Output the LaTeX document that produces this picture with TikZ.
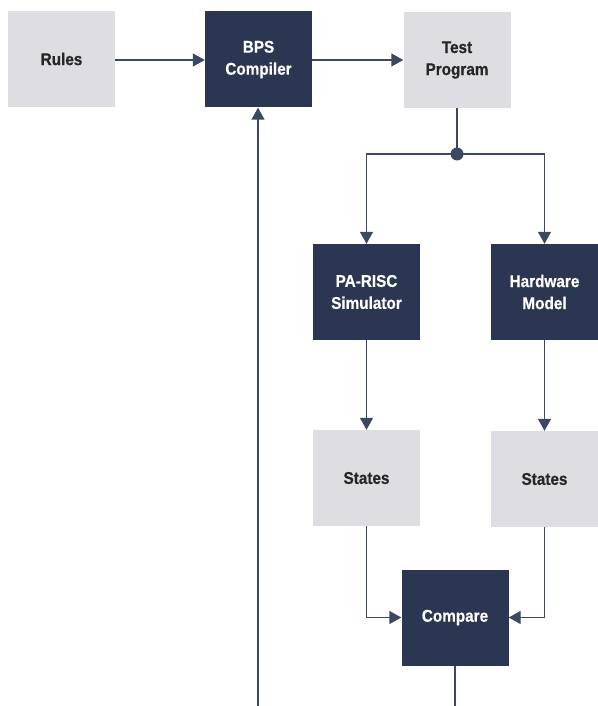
\documentclass[tikz,border=0pt]{standalone}
\usepackage{fontspec}
\setmainfont{Liberation Sans}[FakeStretch=0.9,FakeBold=0.6]
\usetikzlibrary{arrows.meta}
\definecolor{navy}{RGB}{42,54,82}
\definecolor{lgray}{RGB}{222,221,226}
\definecolor{wire}{RGB}{58,72,100}
\tikzset{
  box/.style={minimum width=107pt, minimum height=96pt, inner sep=0pt, align=center,
    font=\fontsize{17}{22}\selectfont\bfseries},
  darkbox/.style={box, fill=navy, text=white},
  lightbox/.style={box, fill=lgray, text=black!85},
  wireline/.style={draw=wire, line width=1.4pt},
  arr/.style={wireline, -{Triangle[length=12pt,width=13pt]}}
}
\begin{document}
\begin{tikzpicture}[x=1pt,y=-1pt]
\path[use as bounding box, fill=white] (0,0) rectangle (597,706);
\node[lightbox] (rules) at (61.5,59) {Rules};
\node[darkbox] (bps) at (258.5,59.5) {BPS\\Compiler};
\node[lightbox] (test) at (457,60) {Test\\Program};
\node[darkbox] (pa) at (366.5,292) {PA-RISC\\Simulator};
\node[darkbox] (hw) at (544.5,292) {Hardware\\Model};
\node[lightbox] (sl) at (366.5,478) {States};
\node[lightbox] (sr) at (544.5,479) {States};
\node[darkbox] (cmp) at (455,617.5) {Compare};
\coordinate (split) at (457,154);
\coordinate (bot) at (258,706);
\coordinate (cbot) at (455,706);
\coordinate (rin) at (bps.west |- 0,60);
\coordinate (tin) at (test.west |- 0,60);
\draw[arr] (rules.east |- rin) -- (rin);
\draw[arr] (bps.east |- tin) -- (tin);
\draw[wireline] (test.south) -- (split);
\draw[arr] (split) -| (pa.north);
\draw[arr] (split) -| (hw.north);
\fill[wire] (split) circle (6.5pt);
\draw[arr] (pa.south) -- (sl.north);
\draw[arr] (hw.south) -- (sr.north);
\draw[arr] (sl.south) |- (cmp.west);
\draw[arr] (sr.south) |- (cmp.east);
\draw[wireline] (cmp.south) -- (cbot);
\draw[arr] (bot) -- (bot |- bps.south);
\end{tikzpicture}
\end{document}
